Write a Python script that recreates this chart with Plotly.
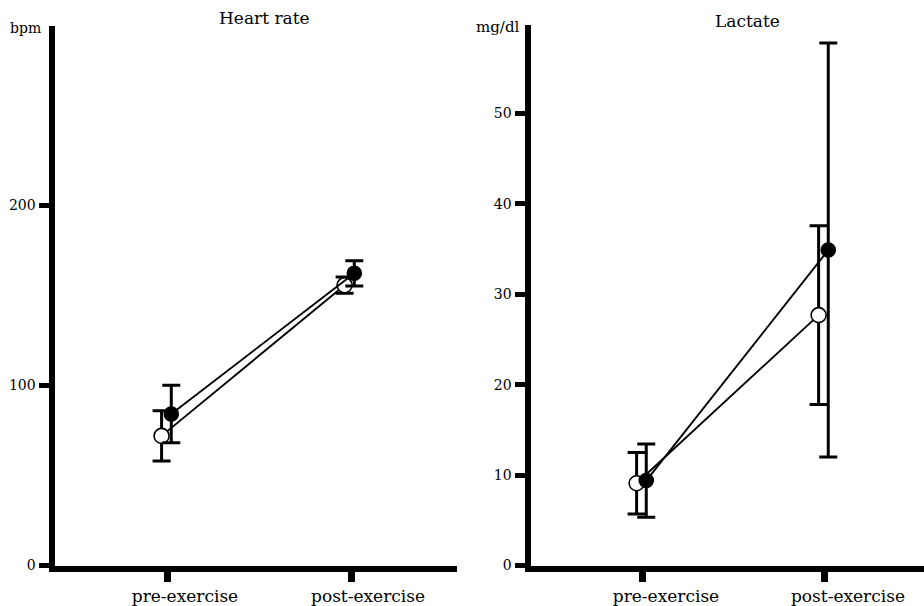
import plotly.graph_objects as go

# ---- data ----
categories = ["pre-exercise", "post-exercise"]

hr_open_mean = [72, 155.7]
hr_open_sd = [14, 4.5]
hr_filled_mean = [84.2, 162.3]
hr_filled_sd = [16, 7]

lac_open_mean = [9.1, 27.7]
lac_open_sd = [3.4, 9.9]
lac_filled_mean = [9.4, 34.9]
lac_filled_sd = [4.05, 22.9]

hr_ticks = [0, 100, 200]
lac_ticks = [0, 10, 20, 30, 40, 50]

# ---- style ----
W, H = 924, 606
FONT = "DejaVu Serif"
OPEN_DX = -0.035
FILLED_DX = 0.018

def px_x(p):
    return p / W

def px_y(p):
    return 1 - p / H

fig = go.Figure()

def add_series(xaxis, yaxis, means, sds, dx, filled):
    xs = [i + dx for i in range(len(categories))]
    fig.add_trace(go.Scatter(
        x=xs, y=means, xaxis=xaxis, yaxis=yaxis,
        mode="lines+markers",
        line=dict(color="black", width=1.9),
        marker=dict(
            symbol="circle",
            size=15 if not filled else 14,
            color="black" if filled else "white",
            line=dict(color="black", width=1.6),
        ),
        error_y=dict(type="data", array=sds, visible=True,
                     color="black", thickness=3, width=9),
        showlegend=False, hoverinfo="skip",
    ))

add_series("x", "y", hr_open_mean, hr_open_sd, OPEN_DX, False)
add_series("x", "y", hr_filled_mean, hr_filled_sd, FILLED_DX, True)
add_series("x2", "y2", lac_open_mean, lac_open_sd, OPEN_DX, False)
add_series("x2", "y2", lac_filled_mean, lac_filled_sd, FILLED_DX, True)

xcommon = dict(
    showgrid=False, zeroline=False, showline=True, linecolor="black",
    linewidth=6, ticks="outside", ticklen=10, tickwidth=7, tickcolor="black",
    tickvals=[0, 1], ticktext=categories,
    tickfont=dict(family=FONT, size=17, color="black"),
    fixedrange=True, automargin=False,
)
ycommon = dict(
    showgrid=False, zeroline=False, showline=True, linecolor="black",
    linewidth=6, ticks="outside", ticklen=10, tickwidth=5, tickcolor="black",
    tickfont=dict(family=FONT, size=14, color="black"),
    fixedrange=True, automargin=False,
)

fig.update_layout(
    width=W, height=H,
    margin=dict(l=0, r=0, t=0, b=0, pad=0, autoexpand=False),
    paper_bgcolor="white", plot_bgcolor="white",
    xaxis=dict(**xcommon, domain=[px_x(54.5), px_x(457)], range=[-0.620, 1.579],
               anchor="y", ticklabelshift=17),
    yaxis=dict(**ycommon, domain=[px_y(565.5), px_y(26)], range=[0, 299.7],
               tickvals=hr_ticks, anchor="x"),
    xaxis2=dict(**xcommon, domain=[px_x(530.5), px_x(924)], range=[-0.618, 1.544],
                anchor="y2", ticklabelshift=23),
    yaxis2=dict(**ycommon, domain=[px_y(565.5), px_y(25)], range=[0, 59.8],
                tickvals=lac_ticks, anchor="x2"),
    annotations=[
        dict(text="Heart rate", x=px_x(264), y=px_y(18), xref="paper", yref="paper",
             xanchor="center", yanchor="middle", showarrow=False,
             font=dict(family=FONT, size=17, color="black")),
        dict(text="Lactate", x=px_x(747), y=px_y(21), xref="paper", yref="paper",
             xanchor="center", yanchor="middle", showarrow=False,
             font=dict(family=FONT, size=17, color="black")),
        dict(text="bpm", x=px_x(43), y=px_y(28), xref="paper", yref="paper",
             xanchor="right", yanchor="middle", showarrow=False,
             font=dict(family=FONT, size=14, color="black")),
        dict(text="mg/dl", x=px_x(521), y=px_y(27), xref="paper", yref="paper",
             xanchor="right", yanchor="middle", showarrow=False,
             font=dict(family=FONT, size=15, color="black")),
    ],
)

fig.write_html("out.html")
